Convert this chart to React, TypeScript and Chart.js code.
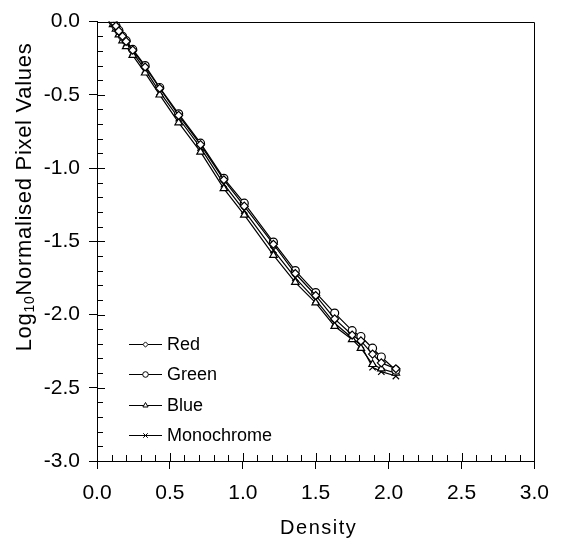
import { useEffect, useRef } from 'react';
import { Chart, registerables } from 'chart.js';
import { drawPoint } from 'chart.js/helpers';

Chart.register(...registerables);

const density = [0.11, 0.13, 0.15, 0.175, 0.2, 0.245, 0.33, 0.43, 0.56, 0.71, 0.87, 1.01, 1.21, 1.36, 1.5, 1.63, 1.75, 1.81, 1.89, 1.95, 2.05];
const red = [0, -0.03, -0.065, -0.1, -0.135, -0.195, -0.31, -0.455, -0.64, -0.84, -1.08, -1.26, -1.52, -1.72, -1.87, -2.03, -2.14, -2.18, -2.27, -2.33, -2.37];
const green = [0, -0.03, -0.06, -0.1, -0.13, -0.19, -0.3, -0.45, -0.63, -0.83, -1.07, -1.24, -1.505, -1.7, -1.85, -1.99, -2.11, -2.15, -2.23, -2.29, -2.38];
const blue = [-0.02, -0.05, -0.09, -0.13, -0.17, -0.23, -0.35, -0.5, -0.69, -0.89, -1.14, -1.32, -1.595, -1.78, -1.92, -2.08, -2.17, -2.23, -2.34, -2.37, -2.4];
const mono = [-0.01, -0.04, -0.075, -0.115, -0.15, -0.21, -0.33, -0.48, -0.66, -0.86, -1.11, -1.29, -1.56, -1.75, -1.9, -2.06, -2.16, -2.21, -2.36, -2.39, -2.42];

const seriesNames = ['Red', 'Green', 'Blue', 'Monochrome'];
const seriesValues = [red, green, blue, mono];
const pointStyles = ['rectRot', 'circle', 'triangle', 'crossRot'];
const pointSizes = [4, 4, 4.3, 4.5];
const legendSizes = [2.6, 2.8, 3, 3.2];

const xTitle = 'Density';
const yTitleParts = ['Log', '10', 'Normalised Pixel Values'];

const FONT = "'Liberation Sans', Arial, sans-serif";

export default function App() {
  const ref = useRef<HTMLCanvasElement>(null);
  useEffect(() => {
    const canvas = ref.current!;
    const decor = {
      id: 'decor',
      afterDraw(chart: any) {
        const { ctx, chartArea: a, scales } = chart;
        const xs = scales.x;
        const ys = scales.y;
        ctx.save();
        ctx.strokeStyle = '#000';
        ctx.lineWidth = 1;
        // frame top and right
        ctx.beginPath();
        ctx.moveTo(Math.round(a.left), Math.round(a.top) + 0.5);
        ctx.lineTo(Math.round(a.right) + 0.5, Math.round(a.top) + 0.5);
        ctx.lineTo(Math.round(a.right) + 0.5, Math.round(a.bottom) + 7);
        ctx.stroke();
        // inside ticks
        ctx.beginPath();
        for (let i = 0; i < 30; i++) {
          const v = i / 10;
          const x = Math.round(xs.getPixelForValue(v)) + 0.5;
          const len = i % 5 === 0 ? 8 : 6;
          ctx.moveTo(x, a.bottom);
          ctx.lineTo(x, a.bottom - len);
        }
        for (let i = 0; i <= 30; i++) {
          const v = -i / 10;
          const y = Math.round(ys.getPixelForValue(v)) + 0.5;
          const len = i % 5 === 0 ? 8 : 6;
          ctx.moveTo(a.left, y);
          ctx.lineTo(a.left + len, y);
        }
        ctx.stroke();

        // x title
        ctx.fillStyle = '#000';
        (ctx as any).letterSpacing = '1.5px';
        ctx.font = `20px ${FONT}`;
        ctx.textAlign = 'center';
        ctx.textBaseline = 'middle';
        ctx.fillText(xTitle, (a.left + a.right) / 2 + 3, 528);

        // y title with subscript
        ctx.save();
        ctx.translate(25, 197);
        ctx.rotate(-Math.PI / 2);
        ctx.textAlign = 'left';
        (ctx as any).letterSpacing = '0.7px';
        ctx.font = `22px ${FONT}`;
        const w0 = ctx.measureText(yTitleParts[0]).width;
        const w2 = ctx.measureText(yTitleParts[2]).width;
        ctx.font = `14px ${FONT}`;
        const w1 = ctx.measureText(yTitleParts[1]).width;
        let sx = -(w0 + w1 + w2) / 2;
        ctx.font = `22px ${FONT}`;
        ctx.fillText(yTitleParts[0], sx, 0);
        sx += w0;
        ctx.font = `14px ${FONT}`;
        ctx.fillText(yTitleParts[1], sx, 5);
        sx += w1;
        ctx.font = `22px ${FONT}`;
        ctx.fillText(yTitleParts[2], sx, 0);
        ctx.restore();

        // legend
        (ctx as any).letterSpacing = '0px';
        ctx.font = `18px ${FONT}`;
        ctx.textAlign = 'left';
        ctx.textBaseline = 'middle';
        for (let i = 0; i < seriesNames.length; i++) {
          const y = Math.round(344 + i * 30.4) + 0.5;
          ctx.strokeStyle = '#000';
          ctx.lineWidth = 1;
          ctx.beginPath();
          ctx.moveTo(129, y);
          ctx.lineTo(162, y);
          ctx.stroke();
          ctx.fillStyle = '#fff';
          ctx.strokeStyle = '#000';
          drawPoint(ctx, { pointStyle: pointStyles[i] as any, radius: legendSizes[i], rotation: 0, borderWidth: 1 }, 145.5, y);
          ctx.fillStyle = '#000';
          ctx.fillText(seriesNames[i], 167, y + 1);
        }
        ctx.restore();
      },
    };

    const chart = new Chart(canvas, {
      type: 'line',
      data: {
        datasets: seriesNames.map((name, i) => ({
          label: name,
          data: density.map((d, j) => ({ x: d, y: seriesValues[i][j] })),
          borderColor: '#000',
          borderWidth: 1.2,
          backgroundColor: '#fff',
          pointStyle: pointStyles[i] as any,
          pointRadius: pointSizes[i],
          pointBorderWidth: 1.2,
          pointBorderColor: '#000',
          pointBackgroundColor: '#fff',
          tension: 0,
          fill: false,
        })),
      },
      options: {
        animation: false,
        responsive: true,
        maintainAspectRatio: false,
        layout: { padding: { left: 0, top: 14, right: 21, bottom: 0 } },
        plugins: { legend: { display: false }, tooltip: { enabled: false } },
        scales: {
          x: {
            type: 'linear',
            min: 0,
            max: 3,
            ticks: {
              stepSize: 0.5,
              color: '#000',
              padding: 12,
              font: { family: FONT, size: 21 },
              callback: (v: any) => Number(v).toFixed(1),
              maxRotation: 0,
            },
            grid: { drawOnChartArea: false, drawTicks: true, tickLength: 8, color: '#000', lineWidth: 1 },
            border: { display: true, color: '#000', width: 1 },
            afterFit: (s: any) => { s.height = 87; },
          },
          y: {
            type: 'linear',
            min: -3,
            max: 0,
            ticks: {
              stepSize: 0.5,
              color: '#000',
              padding: 9,
              font: { family: FONT, size: 21 },
              callback: (v: any) => Number(v).toFixed(1),
            },
            grid: { drawOnChartArea: false, drawTicks: true, tickLength: 8, color: '#000', lineWidth: 1 },
            border: { display: true, color: '#000', width: 1 },
            afterFit: (s: any) => { s.width = 97; },
          },
        },
      },
      plugins: [decor],
    });
    return () => chart.destroy();
  }, []);
  return (
    <div style={{ position: 'fixed', left: 0, top: 0, width: 561, height: 548, background: '#fff' }}>
      <canvas ref={ref} />
    </div>
  );
}
